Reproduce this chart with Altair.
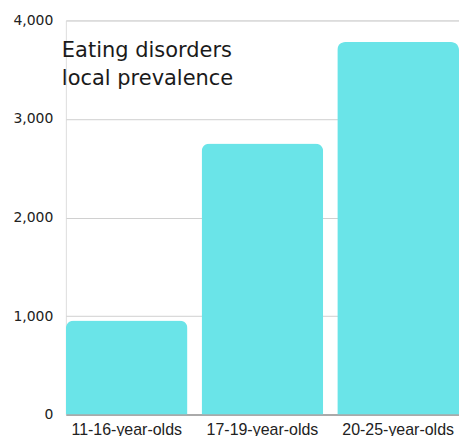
import altair as alt
import pandas as pd

# Local prevalence of eating disorders by age group
age_groups = ["11-16-year-olds", "17-19-year-olds", "20-25-year-olds"]
prevalence = [955, 2750, 3780]
y_ticks = [0, 1000, 2000, 3000, 4000]

df = pd.DataFrame({"group": age_groups, "count": prevalence})

bars = (
    alt.Chart(df)
    .mark_bar(color="#6ae4e8", cornerRadiusTopLeft=8, cornerRadiusTopRight=8)
    .encode(
        x=alt.X(
            "group:N",
            sort=age_groups,
            title=None,
            scale=alt.Scale(paddingInner=0.103, paddingOuter=0),
            axis=alt.Axis(
                labelAngle=0,
                labelFont="Liberation Sans",
                labelFontSize=16,
                labelColor="#222222",
                labelPadding=7,
                ticks=False,
                domainColor="#aaaaaa",
                domainWidth=2,
                grid=False,
            ),
        ),
        y=alt.Y(
            "count:Q",
            title=None,
            scale=alt.Scale(domain=[0, 4000], nice=False),
            axis=alt.Axis(
                values=y_ticks,
                format=",d",
                labelFont="DejaVu Sans",
                labelFontSize=14,
                labelColor="#222222",
                labelPadding=13,
                ticks=False,
                domain=False,
                gridColor="#d0d0d0",
                gridWidth=1,
            ),
        ),
    )
)

chart = (
    bars.properties(
        width=394,
        height=395,
        padding={"left": 66, "top": 20, "right": 0, "bottom": 21},
        autosize=alt.AutoSizeParams(type="none"),
        title=alt.TitleParams(
            text=["Eating disorders", "local prevalence"],
            anchor="start",
            frame="group",
            orient="top",
            baseline="top",
            offset=0,
            dy=76,
            dx=-4,
            font="DejaVu Sans",
            fontSize=21,
            fontWeight="normal",
            color="#1a1a1a",
            lineHeight=28,
        ),
    )
    .configure_view(strokeOpacity=0, strokeWidth=0)
    .configure(background="white")
)

chart.save("out.html", embed_options={"renderer": "svg", "actions": False})
